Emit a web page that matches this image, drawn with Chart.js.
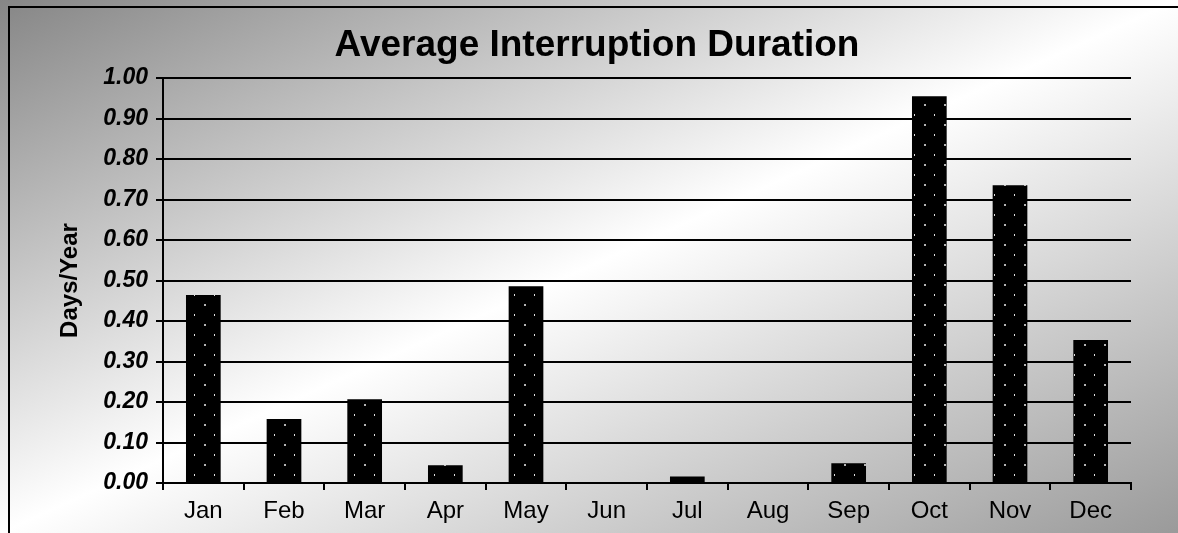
<!DOCTYPE html>
<html>
<head>
<meta charset="utf-8">
<script src="https://cdn.jsdelivr.net/npm/chart.js@4/dist/chart.umd.min.js"></script>
<style>
  html, body { margin: 0; padding: 0; background: #fff; overflow: hidden; }
  #wrap { width: 1178px; height: 533px; overflow: hidden; }
  canvas { display: block; }
</style>
</head>
<body>
<div id="wrap"><canvas id="c" width="1178" height="533"></canvas></div>
<script>
const months = ['Jan','Feb','Mar','Apr','May','Jun','Jul','Aug','Sep','Oct','Nov','Dec'];
const daysPerYear = [0.464, 0.158, 0.207, 0.044, 0.486, 0, 0.016, 0, 0.049, 0.955, 0.735, 0.353];
const yTickLabels = ['0.00','0.10','0.20','0.30','0.40','0.50','0.60','0.70','0.80','0.90','1.00'];
const chartTitle = 'Average Interruption Duration';
const yTitle = 'Days/Year';

function makePattern() {
  const p = document.createElement('canvas');
  p.width = 20; p.height = 20;
  const g = p.getContext('2d');
  g.fillStyle = '#000';
  g.fillRect(0, 0, 20, 20);
  g.fillStyle = '#b4b4b4';
  g.fillRect(4, 4, 2, 2);
  g.fillStyle = '#e0e0e0';
  g.fillRect(14, 14, 1, 2);
  return document.getElementById('c').getContext('2d').createPattern(p, 'repeat');
}

function bgGradient(ctx) {
  const g = ctx.createLinearGradient(388.8, -175.9, 789.2, 708.9);
  g.addColorStop(0, '#868686');
  g.addColorStop(0.5, '#ffffff');
  g.addColorStop(1, '#9a9a9a');
  return g;
}

const bgPlugin = {
  id: 'bg',
  beforeDraw(chart) {
    const ctx = chart.ctx;
    const W = chart.width, H = chart.height;
    ctx.save();
    ctx.fillStyle = bgGradient(ctx);
    ctx.fillRect(0, 0, W, H);
    ctx.strokeStyle = '#000';
    ctx.lineWidth = 2;
    ctx.beginPath();
    ctx.moveTo(W + 2, 7);
    ctx.lineTo(9, 7);
    ctx.lineTo(9, H + 2);
    ctx.stroke();
    ctx.restore();
  },
  afterDraw(chart) {
    const ctx = chart.ctx;
    const W = chart.width, H = chart.height;
    ctx.save();
    ctx.fillStyle = bgGradient(ctx);
    ctx.fillRect(W - 8, 8, 8, H - 8);
    ctx.restore();
  }
};

new Chart(document.getElementById('c'), {
  type: 'bar',
  data: {
    labels: months,
    datasets: [{
      data: daysPerYear,
      backgroundColor: makePattern(),
      borderWidth: 0,
      categoryPercentage: 1,
      barPercentage: 0.43
    }]
  },
  options: {
    responsive: false,
    animation: false,
    devicePixelRatio: 1,
    layout: { padding: { left: 16, right: 0, top: 0, bottom: 0 } },
    plugins: {
      legend: { display: false },
      tooltip: { enabled: false },
      title: {
        display: true,
        text: chartTitle,
        color: '#000',
        font: { family: 'Liberation Sans', size: 37, weight: 'bold' },
        padding: { top: 24, bottom: 9.6 }
      }
    },
    scales: {
      x: {
        grid: { display: true, drawOnChartArea: false, color: '#000', lineWidth: 2, tickLength: 7, offset: true },
        border: { display: true, color: '#000', width: 2 },
        ticks: { color: '#000', font: { family: 'Liberation Sans', size: 24 }, padding: 7, maxRotation: 0, autoSkip: false },
        afterFit(s) { s.height = 50; }
      },
      y: {
        min: 0, max: 1,
        grid: { color: '#000', lineWidth: 2, tickLength: 7 },
        border: { display: true, color: '#000', width: 2 },
        ticks: {
          stepSize: 0.1,
          color: '#000',
          padding: 8,
          font: { family: 'Liberation Sans', size: 23, weight: 'bold', style: 'italic' },
          callback: (v, i) => yTickLabels[i]
        },
        title: {
          display: true,
          text: yTitle,
          color: '#000',
          font: { family: 'Liberation Sans', size: 24, weight: 'bold' },
          padding: { top: 40, bottom: 0 }
        },
        afterFit(s) { s.width = 147; }
      },
      y2: {
        position: 'right',
        display: true,
        grid: { display: false },
        border: { display: false },
        ticks: { display: false },
        afterFit(s) { s.width = 47; }
      }
    }
  },
  plugins: [bgPlugin]
});
</script>
</body>
</html>
